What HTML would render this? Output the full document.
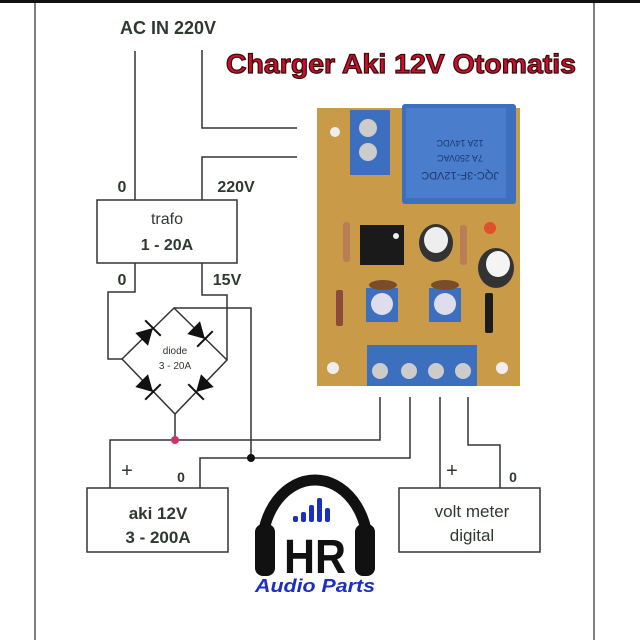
<!DOCTYPE html>
<html><head><meta charset="utf-8"><style>
body{margin:0;background:#fff;}
svg{display:block;}
text{font-family:"Liberation Sans",sans-serif;}
</style></head><body>
<svg width="640" height="640" viewBox="0 0 640 640" xmlns="http://www.w3.org/2000/svg">
<rect width="640" height="640" fill="#fff"/>
<rect x="0" y="0" width="640" height="3" fill="#111"/>
<line x1="35" y1="3" x2="35" y2="640" stroke="#555" stroke-width="1.5"/>
<line x1="594" y1="3" x2="594" y2="640" stroke="#555" stroke-width="1.5"/>

<text x="168" y="34" font-size="18" font-weight="bold" fill="#2e3a30" text-anchor="middle">AC IN 220V</text>
<text x="401" y="73" font-size="27" font-weight="bold" fill="#c8102e" stroke="#3a0a0a" stroke-width="1.2" text-anchor="middle" textLength="350" lengthAdjust="spacingAndGlyphs">Charger Aki 12V Otomatis</text>

<g stroke="#333" stroke-width="1.5" fill="none">
<polyline points="135,51 135,200"/>
<polyline points="202,50 202,128 297,128"/>
<polyline points="297,157 202,157 202,200"/>
<rect x="97" y="200" width="140" height="63"/>
<polyline points="135,263 135,292 108,292 108,359 122,359"/>
<polyline points="202,263 202,295 227,295 227,360"/>
<polyline points="174,308 251,308 251,458"/>
<polygon points="122,359 174,308 227,360 175,414"/>
<line x1="175" y1="414" x2="175" y2="440"/>
<polyline points="110,488 110,440 380,440 380,397"/>
<polyline points="200,488 200,458 410,458 410,397"/>
<polyline points="440,397 440,488"/>
<polyline points="468,397 468,445 500,445 500,488"/>
<rect x="87" y="488" width="141" height="64"/>
<rect x="399" y="488" width="141" height="64"/>
</g>
<circle cx="175" cy="440" r="4" fill="#d0306a"/>
<circle cx="251" cy="458" r="4" fill="#111"/>

<!-- diodes -->
<g fill="#111" stroke="#111" stroke-width="2">
<g transform="translate(148,333) rotate(-45)"><polygon points="-9,-9 -9,9 7,0" stroke="none"/><line x1="7" y1="-11" x2="7" y2="11"/></g>
<g transform="translate(200,334) rotate(45)"><polygon points="-9,-9 -9,9 7,0" stroke="none"/><line x1="7" y1="-11" x2="7" y2="11"/></g>
<g transform="translate(148,387) rotate(45)"><polygon points="-9,-9 -9,9 7,0" stroke="none"/><line x1="7" y1="-11" x2="7" y2="11"/></g>
<g transform="translate(201,387) rotate(135)"><polygon points="-9,-9 -9,9 7,0" stroke="none"/><line x1="7" y1="-11" x2="7" y2="11"/></g>
</g>

<g fill="#2e3a30" font-weight="bold" text-anchor="middle">
<text x="122" y="192" font-size="16">0</text>
<text x="236" y="192" font-size="16">220V</text>
<text x="167" y="224" font-size="16" font-weight="normal">trafo</text>
<text x="167" y="250" font-size="16">1 - 20A</text>
<text x="122" y="285" font-size="16">0</text>
<text x="227" y="285" font-size="16">15V</text>
<text x="175" y="354" font-size="10" font-weight="normal">diode</text>
<text x="175" y="369" font-size="10" font-weight="normal">3 - 20A</text>
<text x="127" y="477" font-size="20" font-weight="normal">+</text>
<text x="181" y="482" font-size="14">0</text>
<text x="158" y="519" font-size="17">aki 12V</text>
<text x="158" y="543" font-size="17">3 - 200A</text>
<text x="452" y="477" font-size="20" font-weight="normal">+</text>
<text x="513" y="482" font-size="14">0</text>
<text x="472" y="517" font-size="17" font-weight="normal">volt meter</text>
<text x="472" y="541" font-size="17" font-weight="normal">digital</text>
</g>

<!-- PCB -->
<rect x="317" y="108" width="203" height="278" fill="#c99a48"/>
<rect x="402" y="104" width="114" height="100" fill="#3d6fbf" rx="3"/>
<rect x="406" y="108" width="100" height="90" fill="#4a7dcc"/>
<text x="460" y="140" font-size="9" fill="#1d3a70" text-anchor="middle" transform="rotate(180 460 140)">12A 14VDC</text>
<text x="460" y="155" font-size="9" fill="#1d3a70" text-anchor="middle" transform="rotate(180 460 155)">7A 250VAC</text>
<text x="460" y="172" font-size="11" fill="#1d3a70" text-anchor="middle" transform="rotate(180 460 172)">JQC-3F-12VDC</text>
<rect x="350" y="110" width="40" height="65" fill="#3d6fbf"/>
<circle cx="368" cy="128" r="9" fill="#ccc"/><circle cx="368" cy="152" r="9" fill="#ccc"/>
<circle cx="335" cy="132" r="5" fill="#eee"/>
<circle cx="333" cy="368" r="6" fill="#eee"/><circle cx="502" cy="368" r="6" fill="#eee"/>
<rect x="360" y="225" width="44" height="40" fill="#1a1a1a"/>
<circle cx="396" cy="236" r="3" fill="#eee"/>
<rect x="343" y="222" width="7" height="40" fill="#b97e55" rx="3"/>
<rect x="460" y="225" width="7" height="40" fill="#b97e55" rx="3"/>
<ellipse cx="436" cy="243" rx="17" ry="19" fill="#333"/><ellipse cx="436" cy="240" rx="12" ry="13" fill="#eee"/>
<ellipse cx="496" cy="268" rx="18" ry="20" fill="#333"/><ellipse cx="498" cy="264" rx="12" ry="13" fill="#f4f4f4"/>
<circle cx="490" cy="228" r="6" fill="#e0502a"/>
<rect x="366" y="288" width="32" height="34" fill="#3d6fbf"/><circle cx="382" cy="304" r="11" fill="#dde"/>
<rect x="429" y="288" width="32" height="34" fill="#3d6fbf"/><circle cx="445" cy="304" r="11" fill="#dde"/>
<ellipse cx="383" cy="285" rx="14" ry="5" fill="#7a4d28"/><ellipse cx="445" cy="285" rx="14" ry="5" fill="#7a4d28"/>
<rect x="336" y="290" width="7" height="36" fill="#8b4a3a" rx="2"/>
<rect x="485" y="293" width="8" height="40" fill="#1c1c1c" rx="2"/>
<rect x="367" y="345" width="110" height="41" fill="#3d6fbf"/>
<circle cx="380" cy="371" r="8" fill="#ccc"/><circle cx="409" cy="371" r="8" fill="#ccc"/>
<circle cx="436" cy="371" r="8" fill="#ccc"/><circle cx="463" cy="371" r="8" fill="#ccc"/>

<!-- Logo -->
<path d="M262,548 A53,68 0 0 1 368,548" fill="none" stroke="#111" stroke-width="11"/>
<rect x="255" y="524" width="20" height="52" rx="8" fill="#111"/>
<rect x="355" y="524" width="20" height="52" rx="8" fill="#111"/>
<g fill="#1b2fc0">
<rect x="293" y="516" width="5" height="6" rx="2"/>
<rect x="301" y="512" width="5" height="10" rx="2"/>
<rect x="309" y="505" width="5" height="17" rx="2"/>
<rect x="317" y="498" width="5" height="24" rx="2"/>
<rect x="325" y="508" width="5" height="14" rx="2"/>
</g>
<text x="315" y="573" font-size="48" font-weight="bold" fill="#111" text-anchor="middle" textLength="62" lengthAdjust="spacingAndGlyphs">HR</text>
<text x="315" y="592" font-size="18" font-weight="bold" font-style="italic" fill="#1b2fc0" text-anchor="middle" font-family="Liberation Serif,serif" textLength="120" lengthAdjust="spacingAndGlyphs">Audio Parts</text>
</svg>
</body></html>
